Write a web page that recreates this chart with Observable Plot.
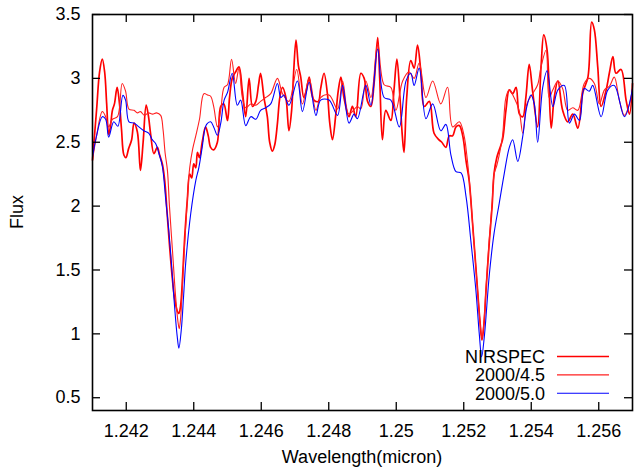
<!DOCTYPE html>
<html>
<head>
<meta charset="utf-8">
<script src="https://cdn.jsdelivr.net/npm/d3@7"></script>
<script src="https://cdn.jsdelivr.net/npm/@observablehq/plot@0.6"></script>
<style>
  html, body { margin: 0; padding: 0; background: white; }
  #chart { width: 642px; height: 468px; }
</style>
</head>
<body>
<div id="chart"></div>
<script>
// ---- Data ----
const seriesNames = ["NIRSPEC", "2000/4.5", "2000/5.0"];

const nirspecWave = [1.24100,1.24112,1.24121,1.24129,1.24136,1.24142,1.24148,1.24153,1.24159,1.24165,1.24173,1.24180,1.24186,1.24193,1.24199,1.24207,1.24216,1.24223,1.24233,1.24242,1.24250,1.24259,1.24266,1.24272,1.24282,1.24292,1.24299,1.24307,1.24314,1.24321,1.24328,1.24336,1.24343,1.24351,1.24356,1.24361,1.24367,1.24373,1.24381,1.24388,1.24394,1.24400,1.24406,1.24411,1.24417,1.24425,1.24435,1.24443,1.24450,1.24459,1.24470,1.24480,1.24489,1.24500,1.24506,1.24514,1.24524,1.24534,1.24544,1.24554,1.24564,1.24574,1.24584,1.24592,1.24598,1.24608,1.24618,1.24625,1.24633,1.24640,1.24648,1.24655,1.24663,1.24673,1.24682,1.24690,1.24696,1.24703,1.24710,1.24717,1.24726,1.24733,1.24742,1.24748,1.24756,1.24769,1.24776,1.24786,1.24796,1.24803,1.24811,1.24821,1.24828,1.24836,1.24845,1.24860,1.24870,1.24880,1.24895,1.24905,1.24915,1.24925,1.24934,1.24945,1.24951,1.24959,1.24969,1.24984,1.24993,1.25002,1.25011,1.25018,1.25023,1.25031,1.25043,1.25053,1.25063,1.25073,1.25083,1.25098,1.25112,1.25126,1.25135,1.25147,1.25157,1.25167,1.25177,1.25187,1.25197,1.25207,1.25216,1.25226,1.25241,1.25248,1.25254,1.25260,1.25266,1.25276,1.25284,1.25290,1.25298,1.25305,1.25315,1.25325,1.25335,1.25345,1.25355,1.25365,1.25375,1.25384,1.25394,1.25404,1.25419,1.25429,1.25437,1.25447,1.25459,1.25468,1.25479,1.25493,1.25508,1.25523,1.25538,1.25553,1.25568,1.25579,1.25587,1.25597,1.25607,1.25622,1.25632,1.25642,1.25651,1.25666,1.25681,1.25691,1.25700];
const nirspecFlux = [2.36,2.75,3.05,3.15,3.05,2.80,2.56,2.62,2.75,2.80,2.93,2.80,2.60,2.40,2.38,2.45,2.52,2.65,2.58,2.28,2.50,2.79,2.70,2.57,2.41,2.46,2.40,2.33,2.20,1.95,1.70,1.45,1.28,1.18,1.16,1.22,1.45,1.75,2.05,2.25,2.22,2.33,2.30,2.42,2.38,2.50,2.62,2.55,2.46,2.44,2.50,2.78,2.80,2.67,2.85,3.00,3.05,3.09,2.90,2.70,3.00,2.78,2.82,2.95,3.04,2.85,2.70,2.50,2.43,2.48,2.65,2.85,2.93,2.85,2.59,2.75,3.05,3.30,3.10,3.01,2.85,2.90,3.01,2.90,2.83,2.82,2.92,3.04,2.88,2.65,2.52,2.72,2.90,3.01,2.85,2.70,2.78,2.70,3.04,3.00,2.82,2.78,2.95,3.32,3.00,2.52,2.75,2.67,2.90,3.15,2.85,2.55,2.42,2.85,3.14,3.08,3.26,3.05,2.78,2.82,2.57,2.52,2.50,2.46,2.55,2.55,2.62,2.63,2.55,2.35,2.20,1.87,1.34,1.10,0.95,1.08,1.34,1.73,2.00,2.26,2.38,2.44,2.52,2.75,2.91,2.88,2.93,2.72,2.70,2.85,3.11,2.90,2.62,3.09,3.34,3.22,2.61,2.85,2.98,2.75,2.66,2.72,2.61,2.89,3.01,3.44,3.38,3.09,2.78,2.91,3.05,3.17,3.04,3.07,2.83,2.72,2.96];

const m45Wave = [1.24100,1.24112,1.24129,1.24139,1.24148,1.24159,1.24174,1.24188,1.24198,1.24208,1.24223,1.24233,1.24242,1.24254,1.24266,1.24278,1.24290,1.24302,1.24309,1.24315,1.24322,1.24328,1.24337,1.24346,1.24353,1.24357,1.24361,1.24367,1.24373,1.24381,1.24388,1.24397,1.24406,1.24417,1.24430,1.24441,1.24450,1.24459,1.24470,1.24480,1.24490,1.24500,1.24512,1.24524,1.24534,1.24544,1.24554,1.24569,1.24584,1.24598,1.24613,1.24628,1.24648,1.24663,1.24682,1.24705,1.24722,1.24742,1.24762,1.24776,1.24801,1.24826,1.24841,1.24860,1.24885,1.24895,1.24910,1.24925,1.24945,1.24964,1.24984,1.24999,1.25019,1.25038,1.25053,1.25068,1.25088,1.25108,1.25132,1.25152,1.25167,1.25187,1.25201,1.25209,1.25216,1.25226,1.25241,1.25248,1.25254,1.25260,1.25266,1.25276,1.25284,1.25290,1.25298,1.25305,1.25315,1.25325,1.25335,1.25349,1.25364,1.25375,1.25387,1.25404,1.25419,1.25429,1.25444,1.25453,1.25464,1.25479,1.25493,1.25508,1.25523,1.25538,1.25557,1.25572,1.25587,1.25602,1.25617,1.25632,1.25646,1.25661,1.25676,1.25691,1.25700];
const m45Flux = [2.36,2.55,2.74,2.70,2.62,2.68,2.70,2.96,2.90,2.76,2.75,2.73,2.74,2.71,2.73,2.72,2.73,2.71,2.60,2.42,2.28,2.00,1.65,1.30,1.10,1.04,1.12,1.40,1.70,2.05,2.30,2.45,2.55,2.68,2.88,2.87,2.86,2.78,2.62,2.75,2.93,2.95,3.15,2.96,3.08,2.85,2.77,2.80,2.79,2.82,2.85,2.88,3.00,2.88,2.82,3.07,2.80,3.00,2.75,2.85,2.87,2.76,2.98,2.72,2.78,2.76,2.98,2.85,3.27,2.95,2.93,2.75,2.98,3.05,3.00,3.12,2.85,2.98,2.80,2.93,2.62,2.66,2.55,2.40,2.22,1.87,1.34,1.10,0.96,1.10,1.36,1.75,2.02,2.25,2.32,2.40,2.55,2.85,2.91,2.85,2.75,2.57,2.80,2.88,2.95,3.09,3.22,2.85,2.91,2.98,2.92,2.75,2.77,2.75,2.96,3.00,2.96,2.80,2.91,2.94,3.01,2.83,2.71,2.80,2.92];

const m50Wave = [1.24100,1.24112,1.24129,1.24139,1.24148,1.24163,1.24175,1.24190,1.24198,1.24208,1.24223,1.24233,1.24252,1.24267,1.24277,1.24287,1.24297,1.24307,1.24317,1.24326,1.24334,1.24341,1.24351,1.24356,1.24363,1.24370,1.24376,1.24391,1.24406,1.24415,1.24425,1.24432,1.24438,1.24450,1.24459,1.24470,1.24480,1.24490,1.24500,1.24514,1.24529,1.24539,1.24554,1.24569,1.24584,1.24598,1.24613,1.24628,1.24648,1.24658,1.24667,1.24682,1.24707,1.24722,1.24742,1.24762,1.24776,1.24801,1.24826,1.24841,1.24860,1.24875,1.24885,1.24910,1.24925,1.24945,1.24964,1.24984,1.25009,1.25029,1.25043,1.25053,1.25068,1.25088,1.25108,1.25132,1.25147,1.25162,1.25177,1.25192,1.25207,1.25221,1.25236,1.25246,1.25253,1.25261,1.25276,1.25290,1.25305,1.25320,1.25335,1.25345,1.25360,1.25375,1.25387,1.25399,1.25409,1.25419,1.25434,1.25447,1.25464,1.25479,1.25498,1.25513,1.25528,1.25543,1.25557,1.25572,1.25582,1.25607,1.25627,1.25646,1.25676,1.25700];
const m50Flux = [2.385,2.55,2.70,2.68,2.54,2.66,2.625,2.867,2.83,2.66,2.65,2.63,2.59,2.57,2.52,2.49,2.41,2.31,2.05,1.81,1.55,1.29,0.98,0.888,1.03,1.30,1.55,1.94,2.20,2.30,2.46,2.59,2.64,2.66,2.62,2.555,2.65,2.83,2.89,3.04,2.79,2.83,2.63,2.70,2.68,2.75,2.77,2.80,2.96,2.85,2.87,2.79,2.98,2.74,2.97,2.71,2.83,2.83,2.71,2.945,2.65,2.72,2.685,2.945,2.79,3.23,2.85,2.83,2.62,2.98,3.04,2.945,3.08,2.685,2.80,2.59,2.64,2.40,2.27,2.26,2.07,1.73,1.34,1.00,0.82,0.98,1.47,1.79,2.02,2.255,2.46,2.52,2.35,2.55,2.78,2.87,2.80,2.50,2.93,3.06,2.78,2.91,2.945,2.65,2.72,2.67,2.92,2.90,2.945,2.70,2.91,2.945,2.70,2.92];

const xTicks = [1.242, 1.244, 1.246, 1.248, 1.25, 1.252, 1.254, 1.256];
const yTicks = [0.5, 1, 1.5, 2, 2.5, 3, 3.5];
const xLabel = "Wavelength(micron)";
const yLabel = "Flux";

// ---- Build rows ----
const toRows = (name, w, f) => w.map((x, i) => ({series: name, x, y: f[i]}));
const rows = [
  ...toRows(seriesNames[0], nirspecWave, nirspecFlux),
  ...toRows(seriesNames[1], m45Wave, m45Flux),
  ...toRows(seriesNames[2], m50Wave, m50Flux)
];
const colors = {"NIRSPEC": "#ff0000", "2000/4.5": "#ff2020", "2000/5.0": "#0000ff"};
const widths = {"NIRSPEC": 1.7, "2000/4.5": 1.1, "2000/5.0": 1.1};

const W = 642, H = 468, mL = 92, mR = 10, mT = 14, mB = 58;
const innerW = W - mL - mR, innerH = H - mT - mB;
const font = "'Liberation Sans', Arial, Helvetica, sans-serif";

const chart = Plot.plot({
  width: W, height: H,
  marginLeft: mL, marginRight: mR, marginTop: mT, marginBottom: mB,
  x: {domain: [1.241, 1.257]},
  y: {domain: [0.4, 3.5]},
  style: {fontFamily: font, fontSize: "18px", background: "white", color: "black", overflow: "visible"},
  marks: [
    ...seriesNames.map(s => Plot.line(rows.filter(d => d.series === s), {
      x: "x", y: "y", stroke: colors[s], strokeWidth: widths[s], curve: "catmull-rom"
    })),
    // inward ticks on all four sides
    Plot.tickX(xTicks, {x: d => d, insetTop: innerH - 8, stroke: "black", strokeWidth: 1.3}),
    Plot.tickX(xTicks, {x: d => d, insetBottom: innerH - 8, stroke: "black", strokeWidth: 1.3}),
    Plot.tickY(yTicks, {y: d => d, insetRight: innerW - 8, stroke: "black", strokeWidth: 1.3}),
    Plot.tickY(yTicks, {y: d => d, insetLeft: innerW - 8, stroke: "black", strokeWidth: 1.3}),
    Plot.axisX(xTicks, {anchor: "bottom", tickSize: 0, tickPadding: 14, label: null, tickFormat: d => String(d), fontSize: 18}),
    Plot.axisY(yTicks, {anchor: "left", tickSize: 0, tickPadding: 12, label: null, tickFormat: d => String(d), fontSize: 18}),
    Plot.frame({stroke: "black", strokeWidth: 1.6})
  ]
});
document.getElementById("chart").appendChild(chart);

// ---- Axis titles and legend ----
const svg = d3.select(chart);
svg.append("text").attr("x", mL + innerW / 2).attr("y", 463)
  .attr("text-anchor", "middle").attr("font-family", font).attr("font-size", 18).attr("fill", "black")
  .text(xLabel);
svg.append("text").attr("transform", `translate(23,${mT + innerH / 2}) rotate(-90)`)
  .attr("text-anchor", "middle").attr("font-family", font).attr("font-size", 18).attr("fill", "black")
  .text(yLabel);

const leg = svg.append("g");
seriesNames.forEach((s, i) => {
  const cy = 356.5 + i * 18.4;
  leg.append("text").attr("x", 545).attr("y", cy + 6.3).attr("text-anchor", "end")
    .attr("font-family", font).attr("font-size", 18).attr("fill", "black").text(s);
  leg.append("line").attr("x1", 557).attr("x2", 609).attr("y1", cy).attr("y2", cy)
    .attr("stroke", colors[s]).attr("stroke-width", widths[s]);
});
</script>
</body>
</html>
